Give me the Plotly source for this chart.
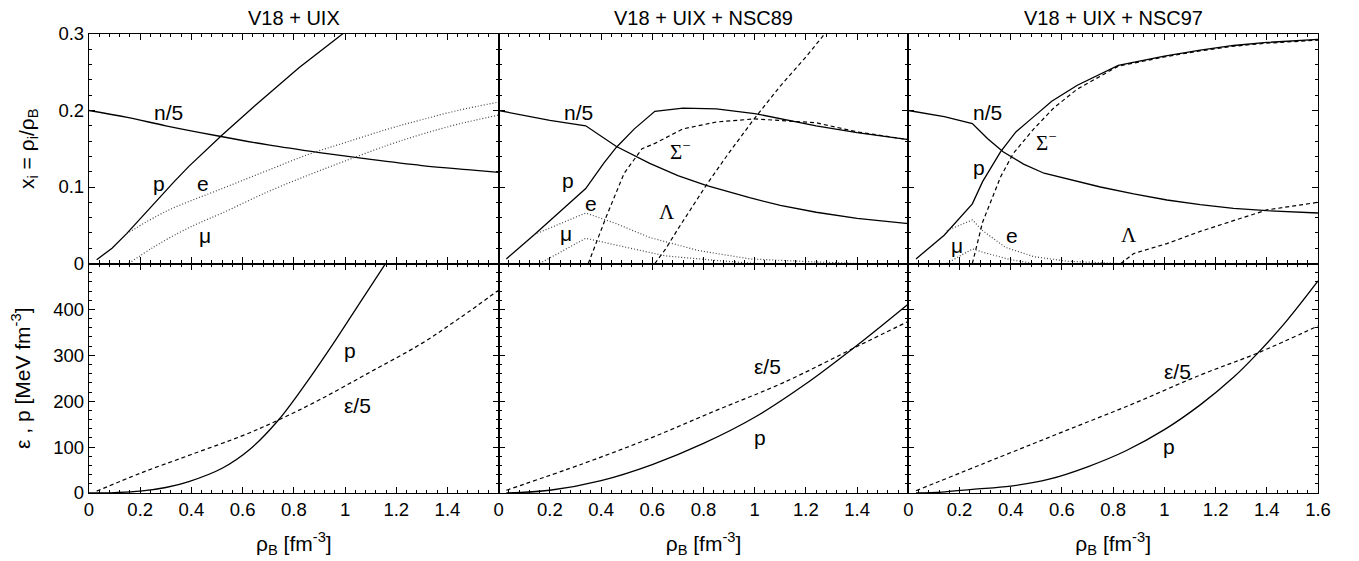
import plotly.graph_objects as go
from plotly.subplots import make_subplots

# ---------------- data ----------------
titles = ["V18\u00a0+\u00a0UIX", "V18\u00a0+\u00a0UIX\u00a0+\u00a0NSC89", "V18\u00a0+\u00a0UIX\u00a0+\u00a0NSC97"]

# Panel 1: V18 + UIX (particle fractions)
uix_n_x = [0.0, 0.15, 0.3, 0.5, 0.7, 0.9, 1.1, 1.3, 1.5, 1.6]
uix_n_y = [0.200, 0.191, 0.180, 0.167, 0.155, 0.145, 0.136, 0.128, 0.122, 0.119]
uix_p_x = [0.03, 0.09, 0.147, 0.21, 0.26, 0.33, 0.39, 0.52, 0.65, 0.82, 0.99, 1.1]
uix_p_y = [0.005, 0.020, 0.039, 0.062, 0.081, 0.106, 0.127, 0.168, 0.207, 0.256, 0.300, 0.327]
uix_e_x = [0.147, 0.3, 0.52, 0.7, 0.86, 1.0, 1.17, 1.3, 1.44, 1.6]
uix_e_y = [0.039, 0.068, 0.098, 0.122, 0.143, 0.158, 0.176, 0.188, 0.200, 0.211]
uix_mu_x = [0.155, 0.25, 0.35, 0.43, 0.52, 0.7, 0.86, 1.0, 1.17, 1.3, 1.44, 1.6]
uix_mu_y = [0.0, 0.021, 0.040, 0.053, 0.066, 0.094, 0.116, 0.134, 0.155, 0.169, 0.182, 0.194]

# Panel 2: V18 + UIX + NSC89
n89_n_x = [0.0, 0.2, 0.34, 0.4, 0.46, 0.59, 0.7, 0.81, 0.98, 1.1, 1.24, 1.4, 1.6]
n89_n_y = [0.200, 0.187, 0.180, 0.166, 0.153, 0.131, 0.115, 0.102, 0.086, 0.076, 0.067, 0.059, 0.052]
n89_p_x = [0.03, 0.14, 0.34, 0.41, 0.46, 0.53, 0.61, 0.72, 0.85, 1.0, 1.24, 1.4, 1.6]
n89_p_y = [0.006, 0.038, 0.098, 0.131, 0.152, 0.176, 0.199, 0.203, 0.202, 0.196, 0.180, 0.171, 0.162]
n89_e_x = [0.14, 0.34, 0.46, 0.59, 0.78, 0.98, 1.24, 1.4]
n89_e_y = [0.038, 0.066, 0.052, 0.034, 0.017, 0.006, 0.002, 0.0]
n89_mu_x = [0.16, 0.34, 0.46, 0.65, 0.85, 1.0]
n89_mu_y = [0.0, 0.033, 0.024, 0.010, 0.004, 0.0]
n89_sig_x = [0.35, 0.42, 0.49, 0.56, 0.61, 0.72, 0.85, 1.0, 1.24, 1.4, 1.6]
n89_sig_y = [0.0, 0.061, 0.118, 0.150, 0.157, 0.176, 0.185, 0.189, 0.184, 0.172, 0.162]
n89_lam_x = [0.61, 0.65, 0.7, 0.81, 0.9, 1.0, 1.1, 1.2, 1.273, 1.4]
n89_lam_y = [0.0, 0.018, 0.045, 0.102, 0.145, 0.190, 0.232, 0.270, 0.300, 0.350]

# Panel 3: V18 + UIX + NSC97
n97_n_x = [0.0, 0.14, 0.25, 0.31, 0.37, 0.45, 0.53, 0.65, 0.75, 0.88, 1.01, 1.14, 1.27, 1.4, 1.6]
n97_n_y = [0.200, 0.192, 0.183, 0.163, 0.146, 0.130, 0.118, 0.108, 0.100, 0.091, 0.083, 0.077, 0.072,
           0.069, 0.066]
n97_p_x = [0.03, 0.14, 0.25, 0.29, 0.36, 0.42, 0.49, 0.56, 0.66, 0.82, 1.0, 1.14, 1.27, 1.4, 1.6]
n97_p_y = [0.006, 0.037, 0.078, 0.107, 0.146, 0.172, 0.192, 0.212, 0.233, 0.259, 0.271, 0.279, 0.285,
           0.289, 0.293]
n97_e_x = [0.15, 0.25, 0.29, 0.38, 0.49, 0.62, 0.82]
n97_e_y = [0.043, 0.057, 0.043, 0.021, 0.009, 0.003, 0.0]
n97_mu_x = [0.15, 0.25, 0.31, 0.40, 0.49]
n97_mu_y = [0.0, 0.019, 0.013, 0.005, 0.0]
n97_sig_x = [0.25, 0.29, 0.36, 0.41, 0.49, 0.57, 0.66, 0.82, 1.0, 1.14, 1.27, 1.4, 1.6]
n97_sig_y = [0.0, 0.054, 0.113, 0.144, 0.176, 0.204, 0.228, 0.258, 0.270, 0.278, 0.284, 0.288, 0.292]
n97_lam_x = [0.83, 0.88, 1.01, 1.14, 1.27, 1.40, 1.6]
n97_lam_y = [0.0, 0.013, 0.026, 0.042, 0.056, 0.070, 0.080]

# Bottom panels: pressure p and energy density eps/5 [MeV fm^-3]
eos_uix_x = [0.0, 0.1, 0.2, 0.3, 0.39, 0.52, 0.63, 0.74, 0.85, 0.94, 1.04, 1.1, 1.17]
eos_uix_p = [0, 1, 4, 12, 25, 54, 96, 159, 241, 314, 399, 450, 510]
eps_uix_x = [0.03, 0.2, 0.4, 0.6, 0.74, 0.9, 1.1, 1.3, 1.45, 1.6]
eps_uix_e = [4, 43, 84, 125, 159, 203, 264, 326, 382, 442]

eos_89_x = [0.03, 0.2, 0.4, 0.6, 0.8, 1.0, 1.2, 1.4, 1.6]
eos_89_p = [0, 6, 27, 62, 108, 165, 238, 322, 412]
eps_89_x = [0.03, 0.33, 0.59, 0.85, 1.11, 1.41, 1.6]
eps_89_e = [6, 64, 119, 180, 240, 322, 374]

eos_97_x = [0.03, 0.13, 0.25, 0.4, 0.55, 0.7, 0.85, 1.0, 1.14, 1.27, 1.36, 1.47, 1.6]
eos_97_p = [0, 2, 8, 15, 30, 57, 92, 138, 192, 252, 302, 370, 462]
eps_97_x = [0.03, 0.36, 0.62, 0.88, 1.14, 1.36, 1.6]
eps_97_e = [5, 79, 137, 195, 257, 304, 364]

xtick_vals = [0, 0.2, 0.4, 0.6, 0.8, 1.0, 1.2, 1.4, 1.6]
xtick_text_full = ["0", "0.2", "0.4", "0.6", "0.8", "1", "1.2", "1.4", "1.6"]
xtick_text_cut = ["0", "0.2", "0.4", "0.6", "0.8", "1", "1.2", "1.4", ""]
ytop_vals = [0, 0.1, 0.2, 0.3]
ytop_text = ["0", "0.1", "0.2", "0.3"]
ybot_vals = [0, 100, 200, 300, 400, 500]
ybot_text = ["0", "100", "200", "300", "400", ""]

# ---------------- figure ----------------
FONT = "Liberation Sans, Arial, Helvetica, sans-serif"
SERIF = "Liberation Serif, Times New Roman, serif"
fig = make_subplots(rows=2, cols=3, horizontal_spacing=0, vertical_spacing=0)

SOLID = dict(color="black", width=1.3)
DASH = dict(color="black", width=1.2, dash="4px,3px")
DOT = dict(color="#444444", width=1.2, dash="1px,2px")


def add(x, y, row, col, line, smooth=False):
    fig.add_trace(go.Scatter(x=x, y=y, mode="lines",
                             line=dict(line, shape="spline" if smooth else "linear"),
                             showlegend=False, hoverinfo="skip"), row=row, col=col)


# top row
add(uix_n_x, uix_n_y, 1, 1, SOLID, True)
add(uix_p_x, uix_p_y, 1, 1, SOLID)
add(uix_e_x, uix_e_y, 1, 1, DOT, True)
add(uix_mu_x, uix_mu_y, 1, 1, DOT, True)

add(n89_n_x, n89_n_y, 1, 2, SOLID)
add(n89_p_x, n89_p_y, 1, 2, SOLID)
add(n89_e_x, n89_e_y, 1, 2, DOT)
add(n89_mu_x, n89_mu_y, 1, 2, DOT)
add(n89_sig_x, n89_sig_y, 1, 2, DASH)
add(n89_lam_x, n89_lam_y, 1, 2, DASH)

add(n97_n_x, n97_n_y, 1, 3, SOLID)
add(n97_p_x, n97_p_y, 1, 3, SOLID)
add(n97_e_x, n97_e_y, 1, 3, DOT)
add(n97_mu_x, n97_mu_y, 1, 3, DOT)
add(n97_sig_x, n97_sig_y, 1, 3, DASH)
add(n97_lam_x, n97_lam_y, 1, 3, DASH)

# bottom row
add(eos_uix_x, eos_uix_p, 2, 1, SOLID, True)
add(eps_uix_x, eps_uix_e, 2, 1, DASH, True)
add(eos_89_x, eos_89_p, 2, 2, SOLID, True)
add(eps_89_x, eps_89_e, 2, 2, DASH, True)
add(eos_97_x, eos_97_p, 2, 3, SOLID, True)
add(eps_97_x, eps_97_e, 2, 3, DASH, True)

TICKSIZE = 18.5
LABSIZE = 21
common = dict(showline=True, linecolor="black", linewidth=1.3, mirror="allticks",
              ticks="inside", ticklen=6, tickwidth=1.2, tickcolor="black",
              showgrid=False, zeroline=False, automargin=False,
              tickfont=dict(family=FONT, size=TICKSIZE, color="black"))

for row in (1, 2):
    for col in (1, 2, 3):
        xa = dict(common)
        xa.update(range=[0, 1.6], tickmode="array", tickvals=xtick_vals,
                  minor=dict(ticks="inside", ticklen=3, tickcolor="black", tickwidth=1,
                             tickmode="linear", tick0=0, dtick=0.04, showgrid=False))
        if row == 1:
            xa.update(showticklabels=False)
        else:
            xa.update(ticktext=xtick_text_full if col == 3 else xtick_text_cut,
                      title=dict(text="ρ<sub>B</sub> [fm<sup>-3</sup>]",
                                 font=dict(family=FONT, size=LABSIZE, color="black"),
                                 standoff=16))
        fig.update_xaxes(xa, row=row, col=col)

        ya = dict(common)
        if row == 1:
            ya.update(range=[0, 0.3], tickmode="array", tickvals=ytop_vals, ticktext=ytop_text,
                      minor=dict(ticks="inside", ticklen=3, tickcolor="black", tickwidth=1,
                                 tickmode="linear", tick0=0, dtick=0.02, showgrid=False))
        else:
            ya.update(range=[0, 500], tickmode="array", tickvals=ybot_vals, ticktext=ybot_text,
                      minor=dict(ticks="inside", ticklen=3, tickcolor="black", tickwidth=1,
                                 tickmode="linear", tick0=0, dtick=20, showgrid=False))
        if col != 1:
            ya.update(showticklabels=False)
        else:
            ya.update(title=dict(
                text="x<sub>i</sub> = ρ<sub>i</sub>/ρ<sub>B</sub>" if row == 1
                else "ε , p [MeV fm<sup>-3</sup>]",
                font=dict(family=FONT, size=LABSIZE, color="black"), standoff=18))
        fig.update_yaxes(ya, row=row, col=col)

annotations = []
# panel titles
for i, t in enumerate(titles):
    annotations.append(dict(text=t, xref="paper", yref="paper", x=(2 * i + 1) / 6, y=1,
                            xanchor="center", yanchor="bottom", yshift=3, showarrow=False,
                            font=dict(family=FONT, size=20, color="black")))

labels = [
    # (text, x, y, xaxis, yaxis, font)
    ("n/5", 0.31, 0.197, "x", "y", FONT), ("p", 0.275, 0.105, "x", "y", FONT),
    ("e", 0.446, 0.105, "x", "y", FONT), ("μ", 0.453, 0.037, "x", "y", FONT),
    ("n/5", 0.31, 0.197, "x2", "y2", FONT), ("p", 0.27, 0.109, "x2", "y2", FONT),
    ("e", 0.362, 0.079, "x2", "y2", FONT), ("μ", 0.264, 0.039, "x2", "y2", FONT),
    ("Σ<sup>−</sup>", 0.71, 0.148, "x2", "y2", SERIF), ("Λ", 0.656, 0.067, "x2", "y2", SERIF),
    ("n/5", 0.31, 0.197, "x3", "y3", FONT), ("p", 0.275, 0.126, "x3", "y3", FONT),
    ("Σ<sup>−</sup>", 0.54, 0.159, "x3", "y3", SERIF), ("e", 0.405, 0.037, "x3", "y3", FONT),
    ("μ", 0.19, 0.024, "x3", "y3", FONT), ("Λ", 0.86, 0.037, "x3", "y3", SERIF),
    ("p", 1.02, 311, "x4", "y4", FONT), ("ε/5", 1.05, 191, "x4", "y4", FONT),
    ("ε/5", 1.05, 275, "x5", "y5", FONT), ("p", 1.02, 122, "x5", "y5", FONT),
    ("ε/5", 1.05, 264, "x6", "y6", FONT), ("p", 1.02, 101, "x6", "y6", FONT),
]
for txt, x, y, xr, yr, fam in labels:
    annotations.append(dict(text=txt, x=x, y=y, xref=xr, yref=yr, showarrow=False,
                            xanchor="center", yanchor="middle",
                            font=dict(family=fam, size=LABSIZE, color="black")))

# page body has an 8px default margin; compensate so plot area lands at x 89-1318, y 34-493
fig.update_layout(width=1351, height=553, margin=dict(l=81, r=41, t=26, b=68),
                  plot_bgcolor="white", paper_bgcolor="white",
                  annotations=annotations, showlegend=False,
                  font=dict(family=FONT, size=18, color="black"))

fig.write_html("out.html")
